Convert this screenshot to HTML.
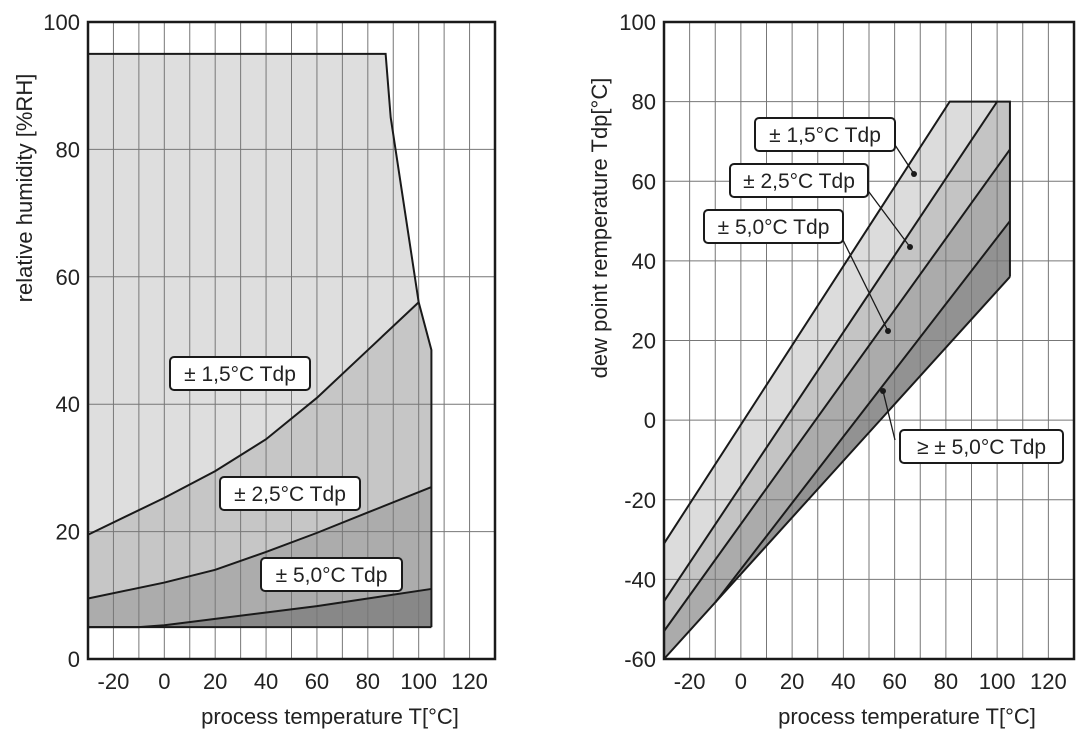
<!DOCTYPE html>
<html><head><meta charset="utf-8"><style>
body{margin:0;background:#fff}
svg text{font-family:"Liberation Sans",sans-serif;fill:#222}
</style></head><body>
<svg id="c" width="1091" height="746"></svg>
<script>
// Left chart data
const lTicksX=[-20,0,20,40,60,80,100,120];
const lTicksY=[0,20,40,60,80,100];
const lOuter=[[-30,95],[87,95],[89,85],[100,56],[105,48.5],[105,5],[-30,5]];
const lCurve15X=[-30,0,20,40,60,80,100];
const lCurve15Y=[19.5,25.3,29.5,34.5,41,48.5,56];
const lCurve25X=[-30,0,20,40,60,80,105];
const lCurve25Y=[9.5,12,14,16.8,19.8,23,27];
const lCurve50X=[-30,-10,0,20,40,60,80,105];
const lCurve50Y=[5,5,5.3,6.3,7.3,8.3,9.5,11];
// Right chart data
const rTicksX=[-20,0,20,40,60,80,100,120];
const rTicksY=[-60,-40,-20,0,20,40,60,80,100];
const rTop=[[-30,-31],[81.5,80],[105,80]];
const rLine15=[[-30,-45.5],[100,80]];
const rLine25=[[-30,-53],[105,68]];
const rLine50=[[-10,-45.8],[105,50]];
const rBottom=[[-30,-60],[105,36]];

const NS="http://www.w3.org/2000/svg";
const svg=document.getElementById('c');
function mk(t,a,p){const e=document.createElementNS(NS,t);for(const k in a)e.setAttribute(k,a[k]);(p||svg).appendChild(e);return e;}
function lx(v){return 88+(v+30)*(495-88)/160;}
function ly(v){return 659-v*(659-22)/100;}
function rx(v){return 664+(v+30)*(1074-664)/160;}
function ry(v){return 659-(v+60)*(659-22)/160;}
function pts(arr,fx,fy){return arr.map(p=>fx(p[0])+','+fy(p[1])).join(' ');}
function zip(xs,ys){return xs.map((x,i)=>[x,ys[i]]);}
const FS=22;

// ----- left chart -----
const c15=zip(lCurve15X,lCurve15Y),c25=zip(lCurve25X,lCurve25Y),c50=zip(lCurve50X,lCurve50Y);
let e;
e=mk('polygon',{points:pts(lOuter,lx,ly),fill:'#dedede'});


const reg2=c15.concat([[105,48.5],[105,5],[-30,5]]);
e=mk('polygon',{points:pts(reg2,lx,ly),fill:'#c6c6c6'});


const reg3=c25.concat([[105,5],[-30,5]]);
e=mk('polygon',{points:pts(reg3,lx,ly),fill:'#acacac'});


const reg4=c50.concat([[105,5]]);
e=mk('polygon',{points:pts(reg4,lx,ly),fill:'#888'});


for(let v=-20;v<=120;v+=10){mk('line',{x1:lx(v),x2:lx(v),y1:22,y2:659,stroke:'#777','stroke-width':1});}
for(let v=20;v<100;v+=20){mk('line',{x1:88,x2:495,y1:ly(v),y2:ly(v),stroke:'#777','stroke-width':1});}
[lOuter,c15,c25,c50].forEach((a,i)=>{e=mk('polyline',{points:pts(i==0?a.slice(0,5).concat([[105,5]]):a,lx,ly),fill:'none',stroke:'#1a1a1a','stroke-width':2});

});
mk('line',{x1:lx(-30),x2:lx(105),y1:ly(5),y2:ly(5),stroke:'#1a1a1a','stroke-width':2});
mk('rect',{x:88,y:22,width:407,height:637,fill:'none',stroke:'#1a1a1a','stroke-width':2.5});
lTicksX.forEach(v=>{e=mk('text',{x:lx(v),y:689,'font-size':FS,'text-anchor':'middle'});e.textContent=v;

});
lTicksY.forEach(v=>{e=mk('text',{x:80,y:ly(v)+8,'font-size':FS,'text-anchor':'end'});e.textContent=v;

});
e=mk('text',{x:330,y:724,'font-size':FS,'text-anchor':'middle'});e.textContent='process temperature T[°C]';


e=mk('text',{x:0,y:0,'font-size':FS,'text-anchor':'middle',transform:'translate(32,188) rotate(-90)'});e.textContent='relative humidity [%RH]';



function label(x,y,w,txt,name){
  const g=mk('g',{});
  
  
  mk('rect',{x:x,y:y,width:w,height:33,rx:4,fill:'#fff',stroke:'#1a1a1a','stroke-width':2},g);
  const t=mk('text',{x:x+w/2,y:y+24,'font-size':21,'text-anchor':'middle'},g);t.textContent=txt;
}
label(170,357,140,'± 1,5°C Tdp','left-label-1-5');
label(220,477,140,'± 2,5°C Tdp','left-label-2-5');
label(261,558,141,'± 5,0°C Tdp','left-label-5-0');

// ----- right chart -----
e=mk('polygon',{points:pts(rTop.concat([[105,36],[-30,-60]]),rx,ry),fill:'#dcdcdc'});


e=mk('polygon',{points:pts([rLine15[0],rLine15[1],[105,80],[105,36],[-30,-60]],rx,ry),fill:'#c4c4c4'});


e=mk('polygon',{points:pts([rLine25[0],rLine25[1],[105,36],[-30,-60]],rx,ry),fill:'#ababab'});


e=mk('polygon',{points:pts([rLine50[0],rLine50[1],[105,36]],rx,ry),fill:'#929292'});


for(let v=-20;v<=120;v+=10){mk('line',{x1:rx(v),x2:rx(v),y1:22,y2:659,stroke:'#777','stroke-width':1});}
for(let v=-40;v<100;v+=20){mk('line',{x1:664,x2:1074,y1:ry(v),y2:ry(v),stroke:'#777','stroke-width':1});}
[rTop.concat([[105,36]]),rLine15,rLine25,rLine50,rBottom].forEach((a,i)=>{e=mk('polyline',{points:pts(a,rx,ry),fill:'none',stroke:'#1a1a1a','stroke-width':2});

});
mk('rect',{x:664,y:22,width:410,height:637,fill:'none',stroke:'#1a1a1a','stroke-width':2.5});
rTicksX.forEach(v=>{e=mk('text',{x:rx(v),y:689,'font-size':FS,'text-anchor':'middle'});e.textContent=v;

});
rTicksY.forEach(v=>{e=mk('text',{x:656,y:ry(v)+8,'font-size':FS,'text-anchor':'end'});e.textContent=v;

});
e=mk('text',{x:907,y:724,'font-size':FS,'text-anchor':'middle'});e.textContent='process temperature T[°C]';


e=mk('text',{x:0,y:0,'font-size':FS,'text-anchor':'middle',transform:'translate(607,228) rotate(-90)'});e.textContent='dew point remperature Tdp[°C]';


[[895,145,914,174],[866,188,910,247],[840,234,888,331],[895,440,883,391]].forEach(l=>{
  mk('line',{x1:l[0],y1:l[1],x2:l[2],y2:l[3],stroke:'#1a1a1a','stroke-width':1.3});
  mk('circle',{cx:l[2],cy:l[3],r:3,fill:'#1a1a1a'});
});
label(755,118,140,'± 1,5°C Tdp','right-label-1-5');
label(730,164,138,'± 2,5°C Tdp','right-label-2-5');
label(704,210,139,'± 5,0°C Tdp','right-label-5-0');
label(900,430,163,'≥ ± 5,0°C Tdp','right-label-above-5');
</script>
</body></html>
